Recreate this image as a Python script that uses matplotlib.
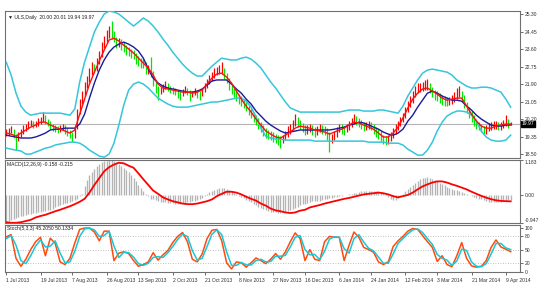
import numpy as np
import matplotlib
matplotlib.use("Agg")
import matplotlib.pyplot as plt
from matplotlib.transforms import blended_transform_factory

plt.rcParams['font.family'] = ['Liberation Sans', 'DejaVu Sans']

# ---- daily bars (one value per trading day) ----
bar_close = [
    19.57, 19.62, 19.67, 19.42, 19.28, 19.42, 19.57, 19.76, 19.81, 19.96,
    20.01, 19.91, 19.96, 20.10, 20.15, 20.30, 20.10, 20.01, 19.86, 19.76,
    19.71, 19.67, 19.76, 19.81, 19.67, 19.57, 19.47, 19.37, 19.76, 20.54,
    21.03, 21.37, 21.80, 22.10, 22.48, 22.75, 22.62, 22.97, 23.31, 23.75,
    24.04, 24.28, 24.43, 24.33, 24.13, 23.84, 23.95, 23.80, 23.70, 23.50,
    23.46, 23.36, 23.30, 23.10, 23.02, 22.92, 22.90, 22.60, 22.63, 22.48,
    22.00, 21.71, 21.51, 21.60, 21.71, 21.85, 21.71, 21.61, 21.56, 21.51,
    21.41, 21.37, 21.51, 21.61, 21.51, 21.37, 21.41, 21.51, 21.41, 21.37,
    21.56, 21.80, 21.95, 22.14, 22.29, 22.48, 22.53, 22.58, 22.63, 22.34,
    22.14, 21.80, 21.61, 21.46, 21.32, 21.17, 21.07, 20.98, 20.83, 20.64,
    20.49, 20.30, 20.15, 19.96, 19.81, 19.67, 19.52, 19.47, 19.42, 19.33,
    19.28, 19.23, 19.18, 19.28, 19.42, 19.62, 19.76, 19.91, 20.05, 20.01,
    19.91, 19.76, 19.67, 19.71, 19.76, 19.67, 19.57, 19.67, 19.76, 19.71,
    19.67, 19.42, 19.23, 19.28, 19.42, 19.62, 19.76, 19.71, 19.67, 19.76,
    19.91, 20.05, 20.15, 20.10, 20.01, 19.91, 19.81, 19.86, 19.91, 19.86,
    19.71, 19.57, 19.47, 19.37, 19.23, 19.18, 19.23, 19.37, 19.57, 19.76,
    19.91, 20.10, 20.30, 20.59, 20.88, 21.07, 21.32, 21.51, 21.66, 21.71,
    21.75, 21.85, 21.85, 21.66, 21.46, 21.37, 21.32, 21.22, 21.12, 21.07,
    21.03, 21.07, 21.12, 21.27, 21.41, 21.46, 21.27, 20.98, 20.74, 20.49,
    20.30, 20.10, 19.96, 19.86, 19.76, 19.67, 19.71, 19.81, 19.86, 19.91,
    19.91, 19.86, 19.86, 19.96, 20.05, 19.96, 19.97]
bar_high = [
    19.70, 19.78, 19.85, 19.72, 19.50, 19.55, 19.70, 19.90, 19.95, 20.10,
    20.18, 20.12, 20.10, 20.25, 20.30, 20.54, 20.40, 20.20, 20.10, 19.95,
    19.90, 19.85, 19.92, 19.98, 19.90, 19.75, 19.68, 19.58, 19.90, 20.70,
    21.20, 21.55, 22.00, 22.30, 22.70, 22.95, 22.90, 23.15, 23.50, 23.95,
    24.25, 24.55, 24.70, 24.95, 24.50, 24.20, 24.15, 24.10, 23.95, 23.80,
    23.70, 23.60, 23.55, 23.40, 23.25, 23.15, 23.10, 22.95, 22.85, 23.20,
    22.55, 22.10, 21.80, 21.75, 21.90, 22.05, 21.95, 21.80, 21.75, 21.70,
    21.62, 21.55, 21.68, 21.80, 21.72, 21.60, 21.58, 21.70, 21.62, 21.55,
    21.72, 21.95, 22.15, 22.35, 22.50, 22.70, 22.75, 22.85, 22.97, 22.70,
    22.45, 22.20, 21.90, 21.70, 21.55, 21.40, 21.30, 21.20, 21.10, 20.90,
    20.75, 20.55, 20.40, 20.25, 20.05, 19.90, 19.75, 19.65, 19.60, 19.55,
    19.50, 19.45, 19.40, 19.45, 19.60, 19.85, 19.95, 20.15, 20.45, 20.30,
    20.15, 20.00, 19.90, 19.90, 19.95, 19.90, 19.80, 19.85, 19.95, 19.92,
    19.88, 19.75, 19.55, 19.50, 19.60, 19.80, 19.95, 19.95, 19.88, 19.95,
    20.10, 20.25, 20.45, 20.35, 20.25, 20.15, 20.05, 20.05, 20.10, 20.08,
    19.95, 19.80, 19.70, 19.60, 19.45, 19.40, 19.42, 19.55, 19.75, 19.95,
    20.10, 20.30, 20.50, 20.80, 21.10, 21.30, 21.55, 21.80, 21.95, 21.95,
    22.00, 22.10, 22.15, 21.95, 21.75, 21.60, 21.55, 21.45, 21.35, 21.30,
    21.25, 21.28, 21.35, 21.50, 21.70, 21.80, 21.55, 21.35, 21.05, 20.80,
    20.60, 20.40, 20.20, 20.08, 19.98, 19.88, 19.90, 20.00, 20.05, 20.10,
    20.10, 20.05, 20.08, 20.15, 20.40, 20.20, 20.05]
bar_low = [
    19.40, 19.45, 19.52, 19.30, 18.69, 19.15, 19.35, 19.48, 19.62, 19.70,
    19.85, 19.78, 19.80, 19.88, 19.98, 20.05, 19.98, 19.85, 19.70, 19.62,
    19.55, 19.52, 19.58, 19.66, 19.50, 19.40, 19.28, 19.08, 19.30, 19.70,
    20.45, 20.95, 21.30, 21.70, 22.00, 22.35, 22.45, 22.55, 22.90, 23.20,
    23.65, 23.95, 24.15, 24.10, 23.95, 23.65, 23.70, 23.55, 23.45, 23.30,
    23.25, 23.15, 23.10, 22.90, 22.80, 22.70, 22.70, 22.40, 22.40, 22.25,
    21.80, 21.45, 21.12, 21.40, 21.50, 21.65, 21.55, 21.45, 21.40, 21.35,
    21.22, 21.15, 21.30, 21.45, 21.35, 21.10, 21.25, 21.35, 21.22, 21.12,
    21.30, 21.50, 21.72, 21.90, 22.05, 22.20, 22.35, 22.40, 22.40, 22.15,
    21.95, 21.60, 21.40, 21.25, 21.10, 20.95, 20.85, 20.75, 20.60, 20.40,
    20.25, 20.05, 19.90, 19.70, 19.55, 19.40, 19.30, 19.25, 19.20, 19.10,
    19.05, 18.95, 18.80, 19.05, 19.20, 19.35, 19.50, 19.65, 19.85, 19.80,
    19.70, 19.55, 19.45, 19.50, 19.55, 19.45, 19.35, 19.45, 19.55, 19.50,
    19.45, 19.20, 18.60, 19.05, 19.20, 19.35, 19.55, 19.50, 19.45, 19.55,
    19.65, 19.80, 19.95, 19.90, 19.80, 19.70, 19.60, 19.65, 19.70, 19.65,
    19.50, 19.35, 19.25, 19.15, 19.00, 18.95, 19.00, 19.15, 19.30, 19.50,
    19.65, 19.85, 20.05, 20.25, 20.55, 20.80, 21.00, 21.25, 21.45, 21.50,
    21.55, 21.60, 21.60, 21.45, 21.25, 21.15, 21.10, 21.00, 20.90, 20.85,
    20.82, 20.88, 20.92, 21.05, 21.20, 21.25, 21.05, 20.75, 20.50, 20.25,
    20.05, 19.85, 19.72, 19.65, 19.55, 19.45, 19.50, 19.60, 19.65, 19.70,
    19.70, 19.65, 19.65, 19.75, 19.85, 19.75, 19.90]

# ---- indicator lines, read every second bar ----
bb_upper = [
    22.97, 22.34, 21.46, 20.83, 20.54, 20.39, 20.44, 20.49, 20.49, 20.49,
    20.49, 20.49, 20.44, 20.39, 20.69, 22.00, 22.97, 23.70, 24.43, 24.91,
    25.30, 25.45, 25.40, 25.30, 25.11, 24.91, 24.72, 24.91, 25.11, 24.96,
    24.72, 24.43, 24.09, 23.79, 23.45, 23.16, 22.87, 22.63, 22.43, 22.29,
    22.29, 22.53, 22.77, 22.97, 23.16, 23.11, 23.07, 23.07, 23.16, 23.21,
    23.11, 22.92, 22.68, 22.34, 22.00, 21.71, 21.37, 21.03, 20.74, 20.64,
    20.54, 20.54, 20.54, 20.54, 20.54, 20.54, 20.54, 20.54, 20.54, 20.59,
    20.64, 20.64, 20.64, 20.59, 20.59, 20.59, 20.64, 20.64, 20.59, 20.54,
    20.49, 20.83, 21.32, 21.71, 22.10, 22.43, 22.58, 22.63, 22.58, 22.53,
    22.48, 22.34, 22.10, 21.95, 21.80, 21.71, 21.71, 21.75, 21.75, 21.71,
    21.61, 21.51, 21.17, 20.78]
bb_lower = [
    18.79, 18.74, 18.69, 18.65, 18.50, 18.50, 18.60, 18.69, 18.79, 18.84,
    18.94, 18.99, 19.03, 19.08, 19.08, 19.03, 18.89, 18.69, 18.55, 18.40,
    18.35, 18.50, 19.03, 19.91, 20.88, 21.61, 21.90, 22.00, 21.90, 21.71,
    21.46, 21.22, 21.07, 20.93, 20.83, 20.78, 20.78, 20.78, 20.83, 20.88,
    20.93, 20.98, 21.03, 21.03, 21.07, 21.12, 21.17, 21.22, 21.22, 21.07,
    20.78, 20.30, 19.76, 19.37, 19.28, 19.23, 19.23, 19.18, 19.18, 19.18,
    19.18, 19.18, 19.18, 19.13, 19.13, 19.13, 19.13, 19.13, 19.13, 19.13,
    19.13, 19.13, 19.13, 19.13, 19.08, 19.08, 19.08, 19.08, 19.03, 19.03,
    19.03, 18.94, 18.74, 18.60, 18.45, 18.45, 18.69, 19.08, 19.62, 20.05,
    20.35, 20.49, 20.59, 20.59, 20.54, 20.39, 20.10, 19.62, 19.33, 19.18,
    19.13, 19.13, 19.18, 19.42]
ma_slow = [
    19.42, 19.37, 19.33, 19.28, 19.28, 19.28, 19.33, 19.42, 19.52, 19.67,
    19.71, 19.71, 19.76, 19.76, 19.76, 19.96, 20.44, 21.22, 21.95, 22.58,
    23.07, 23.45, 23.70, 23.84, 23.94, 23.84, 23.70, 23.50, 23.16, 22.63,
    22.19, 21.95, 21.80, 21.71, 21.66, 21.61, 21.56, 21.51, 21.51, 21.56,
    21.66, 21.85, 22.05, 22.10, 22.10, 22.10, 21.90, 21.66, 21.46, 21.17,
    20.93, 20.59, 20.35, 20.10, 19.91, 19.76, 19.62, 19.52, 19.57, 19.62,
    19.67, 19.67, 19.67, 19.67, 19.67, 19.67, 19.67, 19.71, 19.76, 19.81,
    19.91, 19.96, 20.05, 20.01, 19.91, 19.81, 19.71, 19.57, 19.47, 19.42,
    19.52, 19.71, 20.10, 20.39, 20.78, 21.12, 21.46, 21.56, 21.46, 21.32,
    21.22, 21.12, 21.12, 21.07, 20.83, 20.64, 20.39, 20.20, 20.05, 19.91,
    19.86, 19.86, 19.91, 19.91]
ma_fast = [
    19.52, 19.47, 19.37, 19.52, 19.67, 19.81, 19.91, 20.05, 20.05, 19.91,
    19.81, 19.71, 19.62, 19.52, 19.67, 20.44, 21.17, 21.90, 22.48, 23.02,
    23.55, 24.04, 24.13, 23.99, 23.79, 23.60, 23.41, 23.16, 22.92, 22.68,
    22.34, 21.90, 21.71, 21.66, 21.61, 21.56, 21.51, 21.51, 21.46, 21.51,
    21.61, 21.90, 22.19, 22.39, 22.43, 22.24, 21.95, 21.56, 21.17, 20.83,
    20.54, 20.20, 19.91, 19.62, 19.47, 19.33, 19.28, 19.42, 19.57, 19.76,
    19.86, 19.81, 19.76, 19.67, 19.62, 19.57, 19.47, 19.57, 19.67, 19.76,
    19.91, 20.05, 20.01, 19.91, 19.81, 19.71, 19.52, 19.33, 19.33, 19.52,
    19.81, 20.25, 20.74, 21.17, 21.46, 21.66, 21.71, 21.56, 21.41, 21.22,
    21.12, 21.17, 21.22, 21.22, 20.83, 20.44, 20.10, 19.86, 19.76, 19.76,
    19.86, 19.91, 19.96, 19.96]

macd_hist = [
    -0.91, -0.88, -0.85, -0.82, -0.78, -0.75, -0.72, -0.70, -0.68, -0.65,
    -0.63, -0.61, -0.60, -0.58, -0.56, -0.55, -0.53, -0.52, -0.50, -0.46,
    -0.42, -0.38, -0.34, -0.31, -0.28, -0.26, -0.23, -0.20, -0.16, -0.12,
    -0.05, 0.04, 0.30, 0.49, 0.68, 0.79, 0.89, 0.97, 1.04, 1.10,
    1.14, 1.16, 1.18, 1.17, 1.16, 1.12, 1.06, 0.99, 0.92, 0.85,
    0.78, 0.69, 0.57, 0.46, 0.35, 0.24, 0.12, 0.02, -0.05, -0.12,
    -0.15, -0.18, -0.21, -0.23, -0.24, -0.25, -0.26, -0.27, -0.28, -0.29,
    -0.29, -0.30, -0.28, -0.27, -0.25, -0.23, -0.21, -0.19, -0.17, -0.15,
    -0.10, -0.05, 0.02, 0.09, 0.14, 0.18, 0.20, 0.22, 0.23, 0.23,
    0.21, 0.17, 0.12, 0.07, 0.02, -0.02, -0.06, -0.11, -0.16, -0.20,
    -0.25, -0.30, -0.34, -0.39, -0.43, -0.47, -0.51, -0.54, -0.57, -0.58,
    -0.59, -0.60, -0.61, -0.59, -0.57, -0.55, -0.52, -0.48, -0.43, -0.39,
    -0.34, -0.31, -0.29, -0.26, -0.23, -0.22, -0.21, -0.20, -0.19, -0.17,
    -0.15, -0.13, -0.11, -0.10, -0.08, -0.06, -0.05, -0.03, -0.01, 0.01,
    0.03, 0.05, 0.07, 0.08, 0.10, 0.12, 0.13, 0.14, 0.15, 0.15,
    0.14, 0.13, 0.12, 0.10, 0.07, 0.02, -0.06, -0.12, -0.16, -0.17,
    -0.10, -0.03, 0.04, 0.12, 0.20, 0.28, 0.35, 0.42, 0.48, 0.53,
    0.56, 0.59, 0.61, 0.58, 0.54, 0.50, 0.46, 0.42, 0.37, 0.33,
    0.28, 0.24, 0.21, 0.18, 0.16, 0.13, 0.10, 0.07, 0.04, 0.00,
    -0.03, -0.06, -0.09, -0.12, -0.15, -0.18, -0.21, -0.23, -0.24, -0.25,
    -0.25, -0.24, -0.23, -0.21, -0.19, -0.17, -0.16]
macd_signal = [
    -0.92, -0.94, -0.94, -0.92, -0.88, -0.84, -0.76, -0.71, -0.67, -0.61,
    -0.55, -0.50, -0.44, -0.38, -0.31, -0.23, -0.13, 0.08, 0.34, 0.57,
    0.80, 0.94, 1.03, 1.09, 1.07, 0.99, 0.92, 0.73, 0.53, 0.34,
    0.15, 0.04, -0.08, -0.15, -0.21, -0.25, -0.29, -0.31, -0.31, -0.29,
    -0.25, -0.21, -0.15, -0.04, 0.04, 0.11, 0.11, 0.08, 0.02, -0.06,
    -0.13, -0.19, -0.29, -0.36, -0.46, -0.52, -0.55, -0.59, -0.61, -0.59,
    -0.53, -0.50, -0.42, -0.38, -0.34, -0.29, -0.25, -0.21, -0.17, -0.13,
    -0.10, -0.06, -0.02, 0.02, 0.04, 0.06, 0.08, 0.06, 0.02, -0.04,
    -0.08, -0.04, 0.00, 0.08, 0.19, 0.29, 0.36, 0.42, 0.46, 0.46,
    0.42, 0.36, 0.31, 0.25, 0.19, 0.11, 0.04, -0.03, -0.09, -0.14,
    -0.18, -0.20, -0.21, -0.215]

stoch_k = [
    79, 84, 30, 12, 28, 50, 68, 78, 36, 76,
    64, 22, 16, 30, 65, 96, 99, 99, 90, 70,
    92, 92, 25, 42, 45, 41, 25, 12, 16, 22,
    43, 26, 38, 48, 66, 80, 89, 68, 28, 22,
    40, 75, 94, 96, 70, 20, 6, 22, 20, 10,
    20, 31, 25, 18, 28, 41, 28, 45, 68, 88,
    75, 25, 50, 28, 25, 68, 80, 78, 78, 25,
    60, 90, 78, 55, 50, 44, 22, 16, 22, 57,
    70, 80, 92, 98, 96, 82, 68, 55, 23, 36,
    16, 11, 36, 66, 30, 13, 10, 12, 25, 55,
    72, 56, 51, 45.2]
stoch_d = [
    75, 82, 60, 25, 18, 36, 58, 72, 56, 58,
    70, 42, 20, 22, 46, 80, 97, 99, 95, 80,
    82, 92, 58, 32, 44, 43, 33, 18, 14, 19,
    32, 34, 32, 43, 57, 73, 85, 80, 48, 26,
    30, 57, 85, 95, 84, 45, 14, 14, 21, 15,
    15, 25, 28, 22, 23, 35, 35, 37, 56, 78,
    82, 50, 38, 39, 27, 46, 74, 79, 78, 52,
    42, 75, 84, 67, 53, 47, 33, 19, 19, 40,
    64, 75, 86, 95, 97, 89, 75, 62, 39, 30,
    26, 14, 24, 51, 48, 22, 12, 11, 18, 40,
    64, 64, 54, 50.1]

last_price = 19.97
price_ticks = [18.50, 19.35, 20.20, 21.05, 21.90, 22.75, 23.60, 24.45, 25.30]
date_pos = [0, 14, 27, 41, 54, 68, 81, 95, 109, 122, 136, 149, 163, 176, 190, 204]
date_labels = ["1 Jul 2013", "19 Jul 2013", "7 Aug 2013", "26 Aug 2013", "13 Sep 2013",
               "2 Oct 2013", "21 Oct 2013", "8 Nov 2013", "27 Nov 2013", "16 Dec 2013",
               "6 Jan 2014", "24 Jan 2014", "12 Feb 2014", "3 Mar 2014", "21 Mar 2014",
               "9 Apr 2014"]

bx = np.arange(len(bar_close))
sx = np.arange(0, len(bar_close), 2)

W, H = 550, 290
fig = plt.figure(figsize=(W / 100, H / 100), dpi=100)
fig.patch.set_facecolor("white")
FS = 3.6


def panel(top, bottom):
    ax = fig.add_axes([5 / W, 1 - bottom / H, 515 / W, (bottom - top) / H])
    for s in ax.spines.values():
        s.set_color("#707070")
        s.set_linewidth(0.8)
    ax.yaxis.tick_right()
    ax.tick_params(axis="y", labelsize=FS, length=2, width=0.5, pad=1.5, colors="#303030")
    ax.set_xlim(-0.5, 209.8)
    ax.set_xticks([])
    return ax


# main price window
ax1 = panel(11, 158)
ax1.axhline(last_price, color="#b4b4b4", lw=0.8, zorder=1)
up = [bar_close[i] >= bar_close[i - 1] if i else True for i in range(len(bar_close))]
cols = ["#ff0000" if u else "#00e600" for u in up]
ax1.vlines(bx, bar_low, bar_high, colors=cols, lw=0.9, zorder=2)
ax1.plot(sx, bb_upper, color="#36c6da", lw=1.1, zorder=3)
ax1.plot(sx, bb_lower, color="#36c6da", lw=1.1, zorder=3)
ax1.plot(sx, ma_slow, color="#1a1a9a", lw=1.0, zorder=4)
ax1.plot(sx, ma_fast, color="#ff1010", lw=1.0, zorder=4)
ax1.set_ylim(18.31, 25.45)
ax1.set_yticks(price_ticks, [f"{v:.2f}" for v in price_ticks])
ax1.text(0.006, 0.975, "\u25bc ULS,Daily  20.00 20.01 19.94 19.97", transform=ax1.transAxes,
         fontsize=FS, va="top", ha="left", color="#202020")
tr = blended_transform_factory(ax1.transAxes, ax1.transData)
ax1.text(1.004, last_price, f"{last_price:.2f}", transform=tr, fontsize=FS, va="center",
         ha="left", color="white",
         bbox=dict(boxstyle="square,pad=0.15", fc="black", ec="black"))

# MACD window
ax2 = panel(160, 223)
ax2.vlines(bx, 0, macd_hist, colors="#b4b4b4", lw=0.95)
ax2.plot(sx, macd_signal, color="#ff0000", lw=1.3)
ax2.set_ylim(-0.947, 1.183)
ax2.set_yticks([-0.947, 0.0, 1.183], ["-0.947", "0.00", "1.183"])
lbl = ax2.get_yticklabels()
lbl[0].set_va("bottom")
lbl[2].set_va("top")
ax2.text(0.004, 0.97, "MACD(12,26,9) -0.158 -0.215", transform=ax2.transAxes,
         fontsize=FS, va="top", ha="left", color="#202020")

# Stochastic window
ax3 = panel(225, 272)
for lvl in (20, 50, 80):
    ax3.axhline(lvl, color="#a8a8a8", lw=0.6, ls=(0, (1, 2)))
ax3.plot(sx, stoch_k, color="#ff4a10", lw=1.1)
ax3.plot(sx, stoch_d, color="#18c8d4", lw=1.1)
ax3.set_ylim(-1, 106)
ax3.set_yticks([0, 20, 50, 80, 100], ["0", "20", "50", "80", "100"])
ax3.text(0.004, 0.97, "Stoch(5,3,3) 45.2050 50.1334", transform=ax3.transAxes,
         fontsize=FS, va="top", ha="left", color="#202020")
ax3.set_xticks(date_pos, date_labels)
ax3.tick_params(axis="x", labelsize=FS, length=2.5, width=0.5, pad=2, colors="#303030")
for t in ax3.get_xticklabels():
    t.set_ha("left")

fig.savefig("out.png", dpi=100, facecolor="white")
